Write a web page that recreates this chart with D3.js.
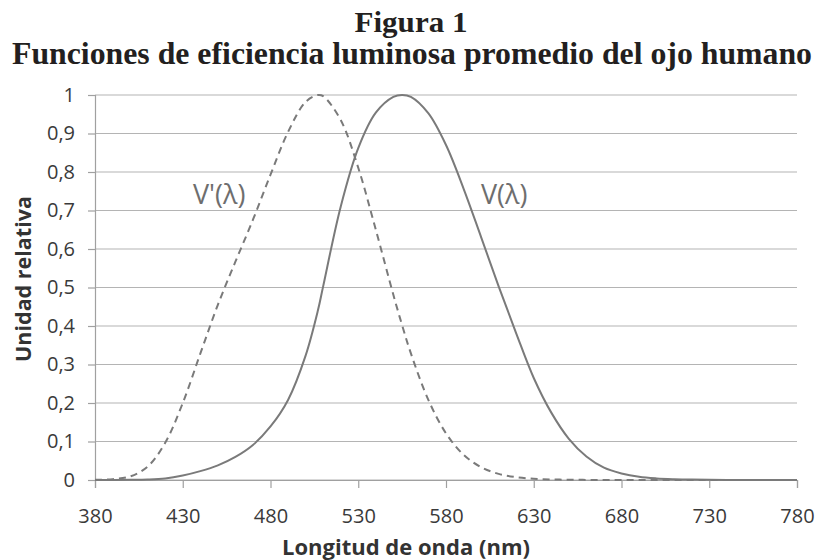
<!DOCTYPE html>
<html>
<head>
<meta charset="utf-8">
<script src="https://cdn.jsdelivr.net/npm/d3@7"></script>
<style>
  html, body { margin: 0; padding: 0; background: #fff; }
  svg text { font-family: "Open Sans", sans-serif; }
</style>
</head>
<body>
<div id="chart"></div>
<script>
// Longitudes de onda (nm)
const wavelengths = [380, 390, 400, 410, 420, 430, 440, 450, 460, 470, 480, 490, 500, 507, 510, 520, 530, 540, 550, 555, 560, 570, 580, 590, 600, 610, 620, 630, 640, 650, 660, 670, 680, 690, 700, 710, 720, 730, 740, 750, 760, 770, 780];

// V(λ) - visión fotópica
const photopic = [0.00004, 0.00012, 0.0004, 0.0012, 0.004, 0.0116, 0.023, 0.038, 0.06, 0.091, 0.139, 0.208, 0.323, 0.44, 0.503, 0.71, 0.862, 0.954, 0.995, 1.0, 0.995, 0.952, 0.87, 0.757, 0.631, 0.503, 0.381, 0.265, 0.175, 0.107, 0.061, 0.032, 0.017, 0.0082, 0.0041, 0.0021, 0.001, 0.0005, 0.00025, 0.00012, 0.00006, 0.00003, 0.000015];

// V'(λ) - visión escotópica
const scotopic = [0.0006, 0.0022, 0.0093, 0.0348, 0.0966, 0.1998, 0.3281, 0.455, 0.567, 0.676, 0.793, 0.904, 0.982, 1.0, 0.997, 0.935, 0.811, 0.65, 0.481, 0.402, 0.3288, 0.2076, 0.1212, 0.0655, 0.0332, 0.0159, 0.0074, 0.0033, 0.0015, 0.0007, 0.0003, 0.00015, 0.00007, 0.00004, 0.00002, 0.00001, 0, 0, 0, 0, 0, 0, 0];

const xTicks = [380, 430, 480, 530, 580, 630, 680, 730, 780];
const yTicks = [0, 0.1, 0.2, 0.3, 0.4, 0.5, 0.6, 0.7, 0.8, 0.9, 1];

const width = 819, height = 560;
const margin = { top: 95, right: 22, bottom: 80, left: 95 };

const svg = d3.select('#chart').append('svg')
    .attr('width', width)
    .attr('height', height);

// Títulos
svg.append('text')
    .attr('x', 411).attr('y', 32)
    .attr('text-anchor', 'middle')
    .attr('textLength', 113).attr('lengthAdjust', 'spacingAndGlyphs')
    .style('font-family', '"Liberation Serif", "Times New Roman", serif')
    .style('font-weight', 'bold').style('font-size', '30px').style('fill', '#231f20')
    .text('Figura 1');

svg.append('text')
    .attr('x', 412).attr('y', 64)
    .attr('text-anchor', 'middle')
    .attr('textLength', 800).attr('lengthAdjust', 'spacingAndGlyphs')
    .style('font-family', '"Liberation Serif", "Times New Roman", serif')
    .style('font-weight', 'bold').style('font-size', '32px').style('fill', '#231f20')
    .text('Funciones de eficiencia luminosa promedio del ojo humano');

const x = d3.scaleLinear().domain([380, 780]).range([margin.left, width - margin.right]);
const y = d3.scaleLinear().domain([0, 1]).range([height - margin.bottom, margin.top]);

// Líneas de cuadrícula
svg.append('g')
    .selectAll('line')
    .data(yTicks)
    .enter()
    .append('line')
    .attr('x1', margin.left)
    .attr('x2', width - margin.right)
    .attr('y1', d => y(d))
    .attr('y2', d => y(d))
    .attr('stroke', '#b4b4b4')
    .attr('stroke-width', 1.2);

// Eje Y
const yAxis = svg.append('g')
    .attr('transform', `translate(${margin.left},0)`)
    .call(d3.axisLeft(y).tickValues(yTicks).tickSize(7).tickPadding(13)
        .tickFormat(d => d3.format('.1~f')(d).replace('.', ',')));

// Eje X
const xAxis = svg.append('g')
    .attr('transform', `translate(0,${height - margin.bottom})`)
    .call(d3.axisBottom(x).tickValues(xTicks).tickSize(8).tickPadding(21));

[yAxis, xAxis].forEach(axis => {
    axis.select('.domain').attr('stroke', '#a0a0a0').attr('stroke-width', 1.2);
    axis.selectAll('.tick line').attr('stroke', '#a0a0a0').attr('stroke-width', 1.2);
    axis.selectAll('.tick text')
        .style('font-family', '"Open Sans", sans-serif')
        .style('font-size', '20px')
        .attr('fill', '#3a3a3a');
});

// Curvas
const line = series => d3.line()
    .x((d, i) => x(wavelengths[i]))
    .y(d => y(d))
    .curve(d3.curveCatmullRom)(series);

svg.append('path')
    .attr('d', line(scotopic))
    .attr('fill', 'none')
    .attr('stroke', '#7a7a7a')
    .attr('stroke-width', 2)
    .attr('stroke-dasharray', '7,5');

svg.append('path')
    .attr('d', line(photopic))
    .attr('fill', 'none')
    .attr('stroke', '#7a7a7a')
    .attr('stroke-width', 2);

// Etiquetas de curvas
svg.append('text')
    .attr('x', 193).attr('y', 204)
    .style('font-size', '27px').style('fill', '#6e6e6e')
    .text("V'(λ)");

svg.append('text')
    .attr('x', 481).attr('y', 204)
    .style('font-size', '27px').style('fill', '#6e6e6e')
    .text('V(λ)');

// Títulos de ejes
svg.append('text')
    .attr('x', 406).attr('y', 555)
    .attr('text-anchor', 'middle')
    .style('font-weight', 'bold').style('font-size', '22px').style('fill', '#333')
    .text('Longitud de onda (nm)');

svg.append('text')
    .attr('transform', 'translate(31,279) rotate(-90)')
    .attr('text-anchor', 'middle')
    .style('font-weight', 'bold').style('font-size', '21.5px').style('fill', '#333')
    .text('Unidad relativa');
</script>
</body>
</html>
